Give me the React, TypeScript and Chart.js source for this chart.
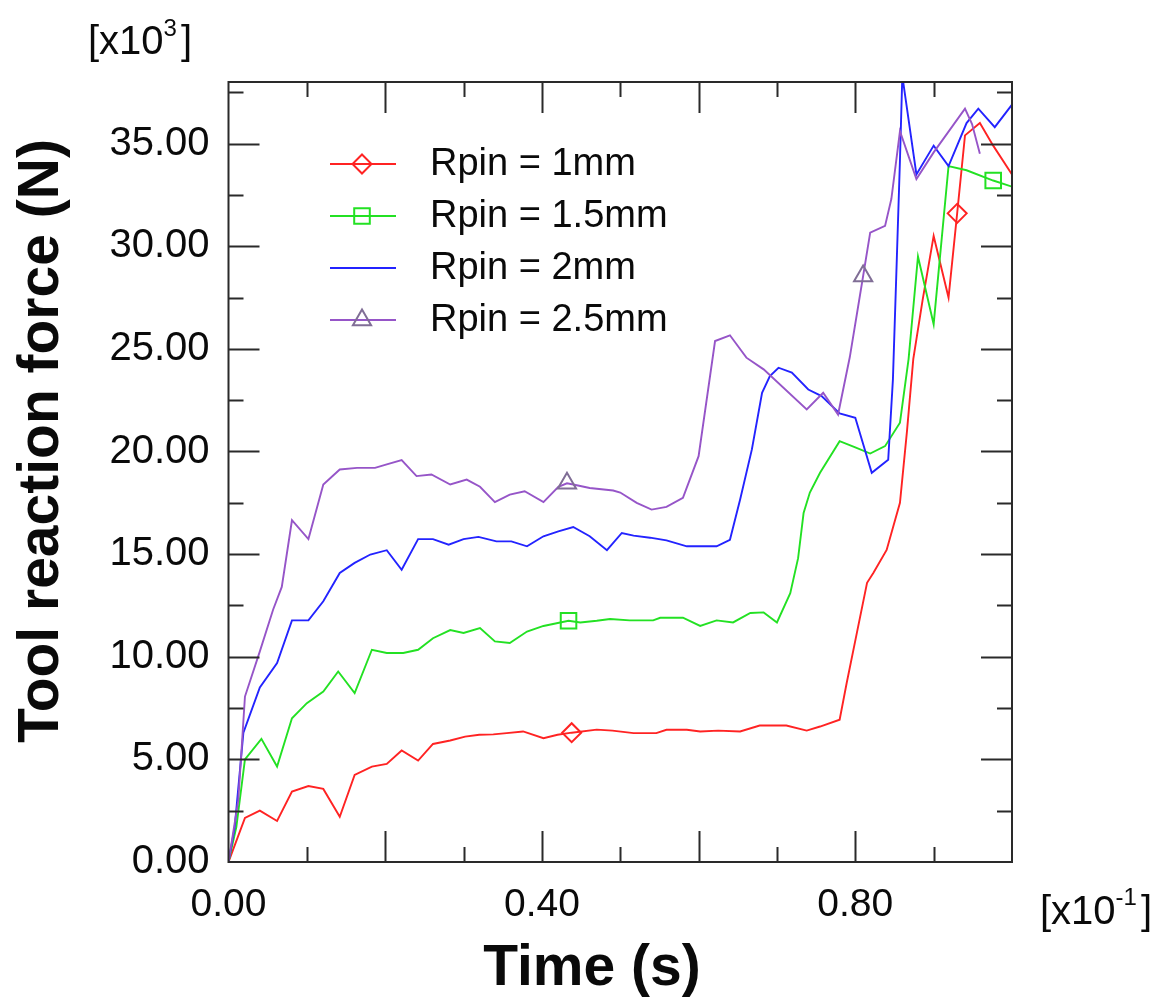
import React, { useEffect, useRef } from 'react';
import { Chart, registerables } from 'chart.js';

Chart.register(...registerables);

const W = 1162;
const H = 1001;
const FONT = '"Liberation Sans", Arial, Helvetica, sans-serif';

// ---- data (time in 1e-1 s, force in 1e3 N) ----
const seriesLabels = ['Rpin = 1mm', 'Rpin = 1.5mm', 'Rpin = 2mm', 'Rpin = 2.5mm'];
const xTickValues = [0, 0.4, 0.8];
const yTickValues = [0, 5, 10, 15, 20, 25, 30, 35];

const rpin1: [number, number][] = [
  [0, 0], [0.021, 2.15], [0.04, 2.5], [0.062, 2.0], [0.081, 3.43], [0.102, 3.7], [0.121, 3.56],
  [0.142, 2.2], [0.161, 4.24], [0.183, 4.65], [0.202, 4.78], [0.221, 5.43], [0.242, 4.94],
  [0.261, 5.75], [0.283, 5.92], [0.302, 6.11], [0.32, 6.2], [0.338, 6.22], [0.355, 6.28],
  [0.376, 6.36], [0.402, 6.03], [0.42, 6.2], [0.438, 6.3], [0.47, 6.45], [0.49, 6.4],
  [0.517, 6.28], [0.546, 6.28], [0.559, 6.44], [0.585, 6.44], [0.602, 6.36], [0.625, 6.4],
  [0.653, 6.36], [0.678, 6.65], [0.712, 6.65], [0.738, 6.4], [0.755, 6.6], [0.78, 6.93],
  [0.789, 8.72], [0.802, 11.16], [0.815, 13.6], [0.823, 14.08], [0.84, 15.2], [0.857, 17.5],
  [0.866, 21.0], [0.874, 24.5], [0.886, 27.4], [0.9, 30.5], [0.919, 27.5], [0.93, 31.6],
  [0.94, 35.4], [0.959, 36.0], [0.976, 34.9], [1.0, 33.5],
];
const rpin1Markers = [0.438, 0.93];

const rpin15: [number, number][] = [
  [0, 0], [0.01, 1.7], [0.021, 5.0], [0.042, 6.0], [0.062, 4.65], [0.081, 7.0], [0.1, 7.74],
  [0.121, 8.3], [0.14, 9.28], [0.161, 8.23], [0.183, 10.34], [0.202, 10.18], [0.223, 10.18],
  [0.242, 10.34], [0.261, 10.9], [0.283, 11.3], [0.3, 11.16], [0.321, 11.4], [0.34, 10.75],
  [0.359, 10.67], [0.381, 11.23], [0.402, 11.5], [0.434, 11.75], [0.449, 11.67], [0.47, 11.75],
  [0.487, 11.84], [0.512, 11.77], [0.542, 11.77], [0.551, 11.9], [0.58, 11.9], [0.602, 11.5],
  [0.623, 11.77], [0.644, 11.67], [0.666, 12.13], [0.683, 12.16], [0.7, 11.67], [0.717, 13.1],
  [0.727, 14.8], [0.734, 17.0], [0.742, 18.0], [0.755, 18.96], [0.78, 20.5], [0.8, 20.2],
  [0.819, 19.9], [0.838, 20.26], [0.857, 21.4], [0.868, 24.5], [0.88, 29.5], [0.9, 26.2],
  [0.919, 33.9], [0.942, 33.7], [0.976, 33.2], [1.0, 32.9],
];
const rpin15Markers = [0.434, 0.976];

const rpin2: [number, number][] = [
  [0, 0], [0.008, 1.72], [0.019, 6.3], [0.04, 8.5], [0.062, 9.69], [0.081, 11.77], [0.102, 11.77],
  [0.121, 12.7], [0.142, 14.08], [0.161, 14.57], [0.181, 14.98], [0.202, 15.19], [0.221, 14.24],
  [0.242, 15.73], [0.261, 15.73], [0.281, 15.46], [0.3, 15.73], [0.319, 15.84], [0.342, 15.62],
  [0.361, 15.62], [0.381, 15.38], [0.402, 15.87], [0.421, 16.11], [0.44, 16.32], [0.461, 15.87],
  [0.483, 15.19], [0.502, 16.03], [0.517, 15.9], [0.538, 15.8], [0.559, 15.67], [0.585, 15.38],
  [0.623, 15.38], [0.64, 15.7], [0.653, 17.66], [0.668, 20.1], [0.681, 22.86], [0.691, 23.67],
  [0.702, 24.08], [0.719, 23.84], [0.74, 23.02], [0.757, 22.7], [0.78, 21.85], [0.8, 21.64],
  [0.821, 18.96], [0.842, 19.6], [0.848, 23.5], [0.853, 29.4], [0.857, 34.2], [0.86, 38.3],
  [0.878, 33.5], [0.9, 34.9], [0.919, 33.9], [0.942, 36.0], [0.957, 36.7], [0.978, 35.8],
  [1.0, 36.9],
];

const rpin25: [number, number][] = [
  [0, 0], [0.0125, 3.0], [0.021, 8.06], [0.04, 10.26], [0.057, 12.3], [0.068, 13.4], [0.081, 16.65],
  [0.102, 15.73], [0.121, 18.39], [0.142, 19.12], [0.164, 19.2], [0.187, 19.2], [0.202, 19.37],
  [0.221, 19.58], [0.24, 18.8], [0.259, 18.88], [0.283, 18.39], [0.304, 18.63], [0.321, 18.28],
  [0.34, 17.53], [0.359, 17.9], [0.378, 18.06], [0.402, 17.53], [0.421, 18.28], [0.432, 18.45],
  [0.44, 18.39], [0.461, 18.22], [0.491, 18.1], [0.5, 18.0], [0.521, 17.5], [0.54, 17.17],
  [0.559, 17.3], [0.58, 17.74], [0.6, 19.77], [0.621, 25.38], [0.64, 25.66], [0.661, 24.57],
  [0.683, 24.0], [0.738, 22.05], [0.759, 22.86], [0.778, 21.8], [0.793, 24.6], [0.81, 28.55],
  [0.819, 30.66], [0.838, 30.99], [0.846, 32.3], [0.857, 35.6], [0.878, 33.27], [0.9, 34.57],
  [0.94, 36.7], [0.949, 35.95], [0.959, 34.5],
];
const rpin25Markers = [0.432, 0.81];

const RED = 'rgb(255,35,35)';
const GREEN = 'rgb(35,225,35)';
const BLUE = 'rgb(35,35,255)';
const PURPLE = 'rgb(150,85,200)';
const TRI = 'rgb(128,110,150)';

const toPts = (a: [number, number][]) => a.map(([x, y]) => ({ x, y }));
const radiusFor = (markers: number[], r: number) => (ctx: any) =>
  ctx.raw && markers.includes(ctx.raw.x) ? r : 0;

function drawMarker(ctx: CanvasRenderingContext2D, kind: string, cx: number, cy: number, color: string) {
  ctx.save();
  ctx.strokeStyle = color;
  ctx.lineWidth = 2;
  ctx.beginPath();
  if (kind === 'diamond') {
    const r = 9.5;
    ctx.moveTo(cx, cy - r); ctx.lineTo(cx + r, cy); ctx.lineTo(cx, cy + r); ctx.lineTo(cx - r, cy);
    ctx.closePath();
  } else if (kind === 'square') {
    const h = 7.8;
    ctx.rect(cx - h, cy - h, 2 * h, 2 * h);
  } else if (kind === 'triangle') {
    const r = 10.5;
    ctx.moveTo(cx, cy - r);
    ctx.lineTo(cx + r * Math.cos(Math.PI / 6), cy + r / 2);
    ctx.lineTo(cx - r * Math.cos(Math.PI / 6), cy + r / 2);
    ctx.closePath();
  }
  ctx.stroke();
  ctx.restore();
}

const framePlugin = {
  id: 'frameTicks',
  afterDatasetsDraw(chart: any) {
    const { ctx, chartArea } = chart;
    const { left, right, top, bottom } = chartArea;
    const xs = chart.scales.x;
    const ys = chart.scales.y;
    ctx.save();
    ctx.strokeStyle = '#2a2a2a';
    ctx.lineWidth = 2;
    ctx.strokeRect(left, top, right - left, bottom - top);
    ctx.beginPath();
    for (let i = 1; i < 10; i++) {
      const v = i / 10;
      const len = i % 2 === 0 ? 31 : 15;
      const px = Math.round(xs.getPixelForValue(v)) + 0.5;
      ctx.moveTo(px, bottom); ctx.lineTo(px, bottom - len);
      ctx.moveTo(px, top); ctx.lineTo(px, top + len);
    }
    for (let i = 1; i <= 15; i++) {
      const v = i * 2.5;
      const len = i % 2 === 0 ? 31 : 15;
      const py = Math.round(ys.getPixelForValue(v)) + 0.5;
      ctx.moveTo(left, py); ctx.lineTo(left + len, py);
      ctx.moveTo(right, py); ctx.lineTo(right - len, py);
    }
    ctx.stroke();
    ctx.restore();
  },
};

const legendItems = [
  { label: seriesLabels[0], color: RED, marker: 'diamond', mcolor: RED },
  { label: seriesLabels[1], color: GREEN, marker: 'square', mcolor: GREEN },
  { label: seriesLabels[2], color: BLUE, marker: 'none', mcolor: BLUE },
  { label: seriesLabels[3], color: PURPLE, marker: 'triangle', mcolor: TRI },
];

const textPlugin = {
  id: 'texts',
  afterDraw(chart: any) {
    const ctx: CanvasRenderingContext2D = chart.ctx;
    ctx.save();
    // legend
    legendItems.forEach((it, i) => {
      const y = 164 + i * 52;
      ctx.strokeStyle = it.color;
      ctx.lineWidth = 2;
      ctx.beginPath();
      ctx.moveTo(330, y); ctx.lineTo(396, y);
      ctx.stroke();
      if (it.marker !== 'none') drawMarker(ctx, it.marker, 362, y, it.mcolor);
      ctx.fillStyle = '#0a0a0a';
      ctx.font = `38px ${FONT}`;
      ctx.textAlign = 'left';
      ctx.textBaseline = 'middle';
      ctx.fillText(it.label, 430, y + 1);
    });

    // axis titles
    ctx.fillStyle = '#0a0a0a';
    ctx.font = `bold 57px ${FONT}`;
    ctx.textAlign = 'center';
    ctx.textBaseline = 'alphabetic';
    ctx.fillText('Time (s)', 592, 985);
    ctx.save();
    ctx.translate(58, 441);
    ctx.rotate(-Math.PI / 2);
    ctx.fillText('Tool reaction force (N)', 0, 0);
    ctx.restore();

    // multipliers
    const drawMult = (x: number, base: number, sup: string, supBase: number) => {
      ctx.textAlign = 'left';
      ctx.textBaseline = 'alphabetic';
      ctx.font = `40px ${FONT}`;
      ctx.fillText('[x10', x, base);
      let cx = x + ctx.measureText('[x10').width;
      ctx.font = `24px ${FONT}`;
      ctx.fillText(sup, cx, supBase);
      cx += ctx.measureText(sup).width + 4;
      ctx.font = `40px ${FONT}`;
      ctx.fillText(']', cx, base);
    };
    drawMult(88, 54, '3', 36);
    drawMult(1040, 924, '-1', 905);
    ctx.restore();
  },
};

export default function App() {
  const ref = useRef<HTMLCanvasElement>(null);
  useEffect(() => {
    document.body.style.margin = '0';
    document.body.style.overflow = 'hidden';
    const canvas = ref.current;
    if (!canvas) return;
    const mk = (label: string, data: [number, number][], color: string, markers: number[], style: string, r: number, mcolor: string) => ({
      label,
      data: toPts(data),
      borderColor: color,
      borderWidth: 1.9,
      pointRadius: radiusFor(markers, r),
      pointHoverRadius: 0,
      pointStyle: style,
      pointBorderColor: mcolor,
      pointBorderWidth: 2,
      pointBackgroundColor: 'rgba(0,0,0,0)',
      fill: false,
      tension: 0,
    });
    const chart = new Chart(canvas, {
      type: 'line',
      data: {
        datasets: [
          mk(seriesLabels[3], rpin25, PURPLE, rpin25Markers, 'triangle', 10.5, TRI),
          mk(seriesLabels[2], rpin2, BLUE, [], 'circle', 0, BLUE),
          mk(seriesLabels[1], rpin15, GREEN, rpin15Markers, 'rect', 11, GREEN),
          mk(seriesLabels[0], rpin1, RED, rpin1Markers, 'rectRot', 9.5, RED),
        ] as any,
      },
      options: {
        animation: false,
        responsive: false,
        devicePixelRatio: 1,
        layout: { padding: { left: 0, right: W - 1012, top: 82, bottom: 0 } },
        plugins: { legend: { display: false }, tooltip: { enabled: false }, title: { display: false } },
        events: [],
        scales: {
          x: {
            type: 'linear',
            min: 0,
            max: 1,
            grid: { display: false, drawTicks: false },
            border: { display: false },
            afterFit: (s: any) => { s.height = H - 862; },
            afterBuildTicks: (s: any) => { s.ticks = xTickValues.map((v) => ({ value: v })); },
            ticks: {
              padding: 20,
              color: '#0a0a0a',
              font: { family: FONT, size: 39 },
              maxRotation: 0,
              autoSkip: false,
              callback: (v: any) => Number(v).toFixed(2),
            },
          },
          y: {
            type: 'linear',
            min: 0,
            max: 38,
            grid: { display: false, drawTicks: false },
            border: { display: false },
            afterFit: (s: any) => { s.width = 228.5; },
            afterBuildTicks: (s: any) => { s.ticks = yTickValues.map((v) => ({ value: v })); },
            ticks: {
              padding: 19,
              color: '#0a0a0a',
              font: { family: FONT, size: 40 },
              autoSkip: false,
              callback: (v: any) => Number(v).toFixed(2),
            },
          },
        },
      } as any,
      plugins: [framePlugin, textPlugin],
    });
    return () => chart.destroy();
  }, []);
  return (
    <div style={{ width: W, height: H, background: '#fff' }}>
      <canvas ref={ref} width={W} height={H} style={{ display: 'block' }} />
    </div>
  );
}
